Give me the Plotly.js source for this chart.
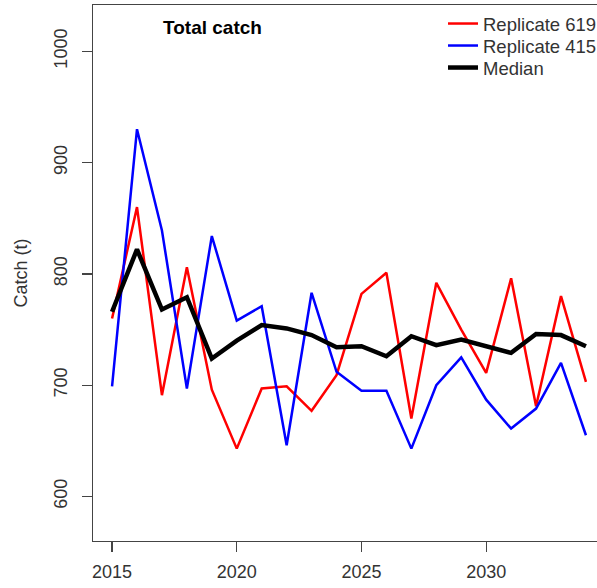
<!DOCTYPE html>
<html>
<head>
<meta charset="utf-8">
<script src="https://cdn.plot.ly/plotly-3.0.1.min.js"></script>
<style>
html,body{margin:0;padding:0;overflow:hidden;background:#fff;}
#chart{width:620px;height:588px;}
</style>
</head>
<body>
<div id="chart"></div>
<script>
var years = [2015,2016,2017,2018,2019,2020,2021,2022,2023,2024,2025,2026,2027,2028,2029,2030,2031,2032,2033,2034];
var replicate619 = [760,860,691,806,696,643,697,699,677,709,782,801,670,792,750,711,796,681,780,703];
var replicate415 = [699,930,839,697,834,758,771,646,783,712,695,695,643,700,725,687,661,679,720,655];
var median = [766,822,768,779,724,740,754,751,745,734,735,726,744,736,741,735,729,746,745,735];
var xTicks = [2015,2020,2025,2030];
var yTicks = [600,700,800,900,1000];

var FONT = 'Liberation Sans, Arial, sans-serif';
var AX = '#444444';
var TXT = '#333333';

var traces = [
  {x: years, y: replicate619, type: 'scatter', mode: 'lines', name: 'Replicate 619',
   legend: 'legend', line: {color: '#ff0000', width: 2.5}},
  {x: years, y: replicate415, type: 'scatter', mode: 'lines', name: 'Replicate 415',
   legend: 'legend2', line: {color: '#0000ff', width: 2.5}},
  {x: years, y: median, type: 'scatter', mode: 'lines', name: 'Median',
   legend: 'legend3', line: {color: '#000000', width: 4.5}}
];

function leg(yTop) {
  return {x: (443-93)/512, xanchor: 'left', y: yTop, yanchor: 'top',
          bgcolor: 'rgba(0,0,0,0)', borderwidth: 0,
          font: {family: FONT, size: 18.5, color: TXT}};
}

var layout = {
  width: 620, height: 588,
  margin: {l: 93, r: 15, t: 5, b: 47},
  paper_bgcolor: '#ffffff', plot_bgcolor: '#ffffff',
  font: {family: FONT, size: 18, color: TXT},
  showlegend: true,
  title: {text: '<b>Total catch</b>', x: 163/620, xanchor: 'left', xref: 'container',
          y: 1 - 27/588, yanchor: 'middle', yref: 'container',
          font: {family: FONT, size: 19, color: '#000000'}},
  legend: leg(1 + 0/536),
  legend2: leg(1 - 22/536),
  legend3: leg(1 - 44/536),
  xaxis: {range: [2014.236, 2034.764], tickmode: 'array', tickvals: xTicks,
          showgrid: false, zeroline: false, showline: true, mirror: true,
          linecolor: AX, linewidth: 1.3, ticks: 'outside', ticklen: 10, tickwidth: 1.3,
          tickcolor: AX, ticklabelstandoff: 4,
          tickfont: {family: FONT, size: 18, color: TXT}},
  yaxis: {range: [560, 1041.6], tickmode: 'array', tickvals: yTicks,
          showgrid: false, zeroline: false, showline: true, mirror: true,
          linecolor: AX, linewidth: 1.3, ticks: 'outside', ticklen: 10, tickwidth: 1.3,
          tickcolor: AX, tickangle: -90, ticklabelstandoff: 8,
          tickfont: {family: FONT, size: 18, color: TXT}},
};
layout.yaxis.title = {text: 'Catch (t)', standoff: 18,
                      font: {family: FONT, size: 18, color: TXT}};

Plotly.newPlot('chart', traces, layout, {displayModeBar: false, staticPlot: true});
</script>
</body>
</html>
